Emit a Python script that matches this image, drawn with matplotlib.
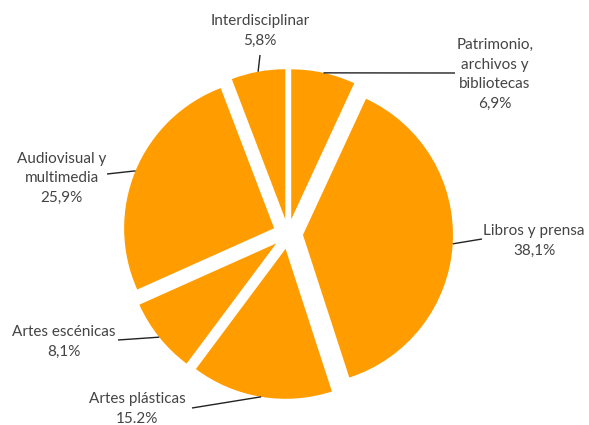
import numpy as np
import matplotlib
matplotlib.use("Agg")
import matplotlib.pyplot as plt

# ---- data ----
categories = ["Patrimonio,\narchivos y\nbibliotecas", "Libros y prensa", "Artes plásticas",
              "Artes escénicas", "Audiovisual y\nmultimedia", "Interdisciplinar"]
values = [6.9, 38.1, 15.2, 8.1, 25.9, 5.8]
value_labels = ["6,9%", "38,1%", "15.2%", "8,1%", "25,9%", "5,8%"]

# ---- layout (pixel positions in a 589x425 canvas) ----
W, H = 589, 425
CX, CY, R = 288, 234, 150          # pie centre / radius in pixels
label_pos = [(495, 74.5), (534, 241), (137, 409), (64, 342), (61.5, 178), (260, 31)]
line_end = [(455, 73), (482, 239), (192, 408), (118, 340), (107, 174), (260, 55)]

def px(p):
    return ((p[0] - CX) / R, (CY - p[1]) / R)

fig = plt.figure(figsize=(W / 100, H / 100), dpi=100)
ax = fig.add_axes([0, 0, 1, 1])
ax.set_aspect("equal")
ax.axis("off")

explode = [0.1] * len(values)
wedges, _ = ax.pie(values, explode=explode, startangle=90, counterclock=False,
                   colors=["#FF9C00"] * len(values), radius=1.0,
                   wedgeprops=dict(linewidth=0), frame=False)
ax.set_xlim(-CX / R, (W - CX) / R)
ax.set_ylim(-(H - CY) / R, CY / R)

txt_color = "#444444"
for w, cat, vl, lp, le in zip(wedges, categories, value_labels, label_pos, line_end):
    mid = np.deg2rad((w.theta1 + w.theta2) / 2)
    cx, cy = w.center
    sx, sy = cx + w.r * np.cos(mid), cy + w.r * np.sin(mid)
    ex, ey = px(le)
    ax.plot([sx, ex], [sy, ey], color="#222222", lw=1.0, solid_capstyle="butt")
    tx, ty = px(lp)
    ax.text(tx, ty, cat + "\n" + vl, ha="center", va="center", fontsize=11,
            family="Lato", color=txt_color, linespacing=1.5)

fig.savefig("out.png", dpi=100)
